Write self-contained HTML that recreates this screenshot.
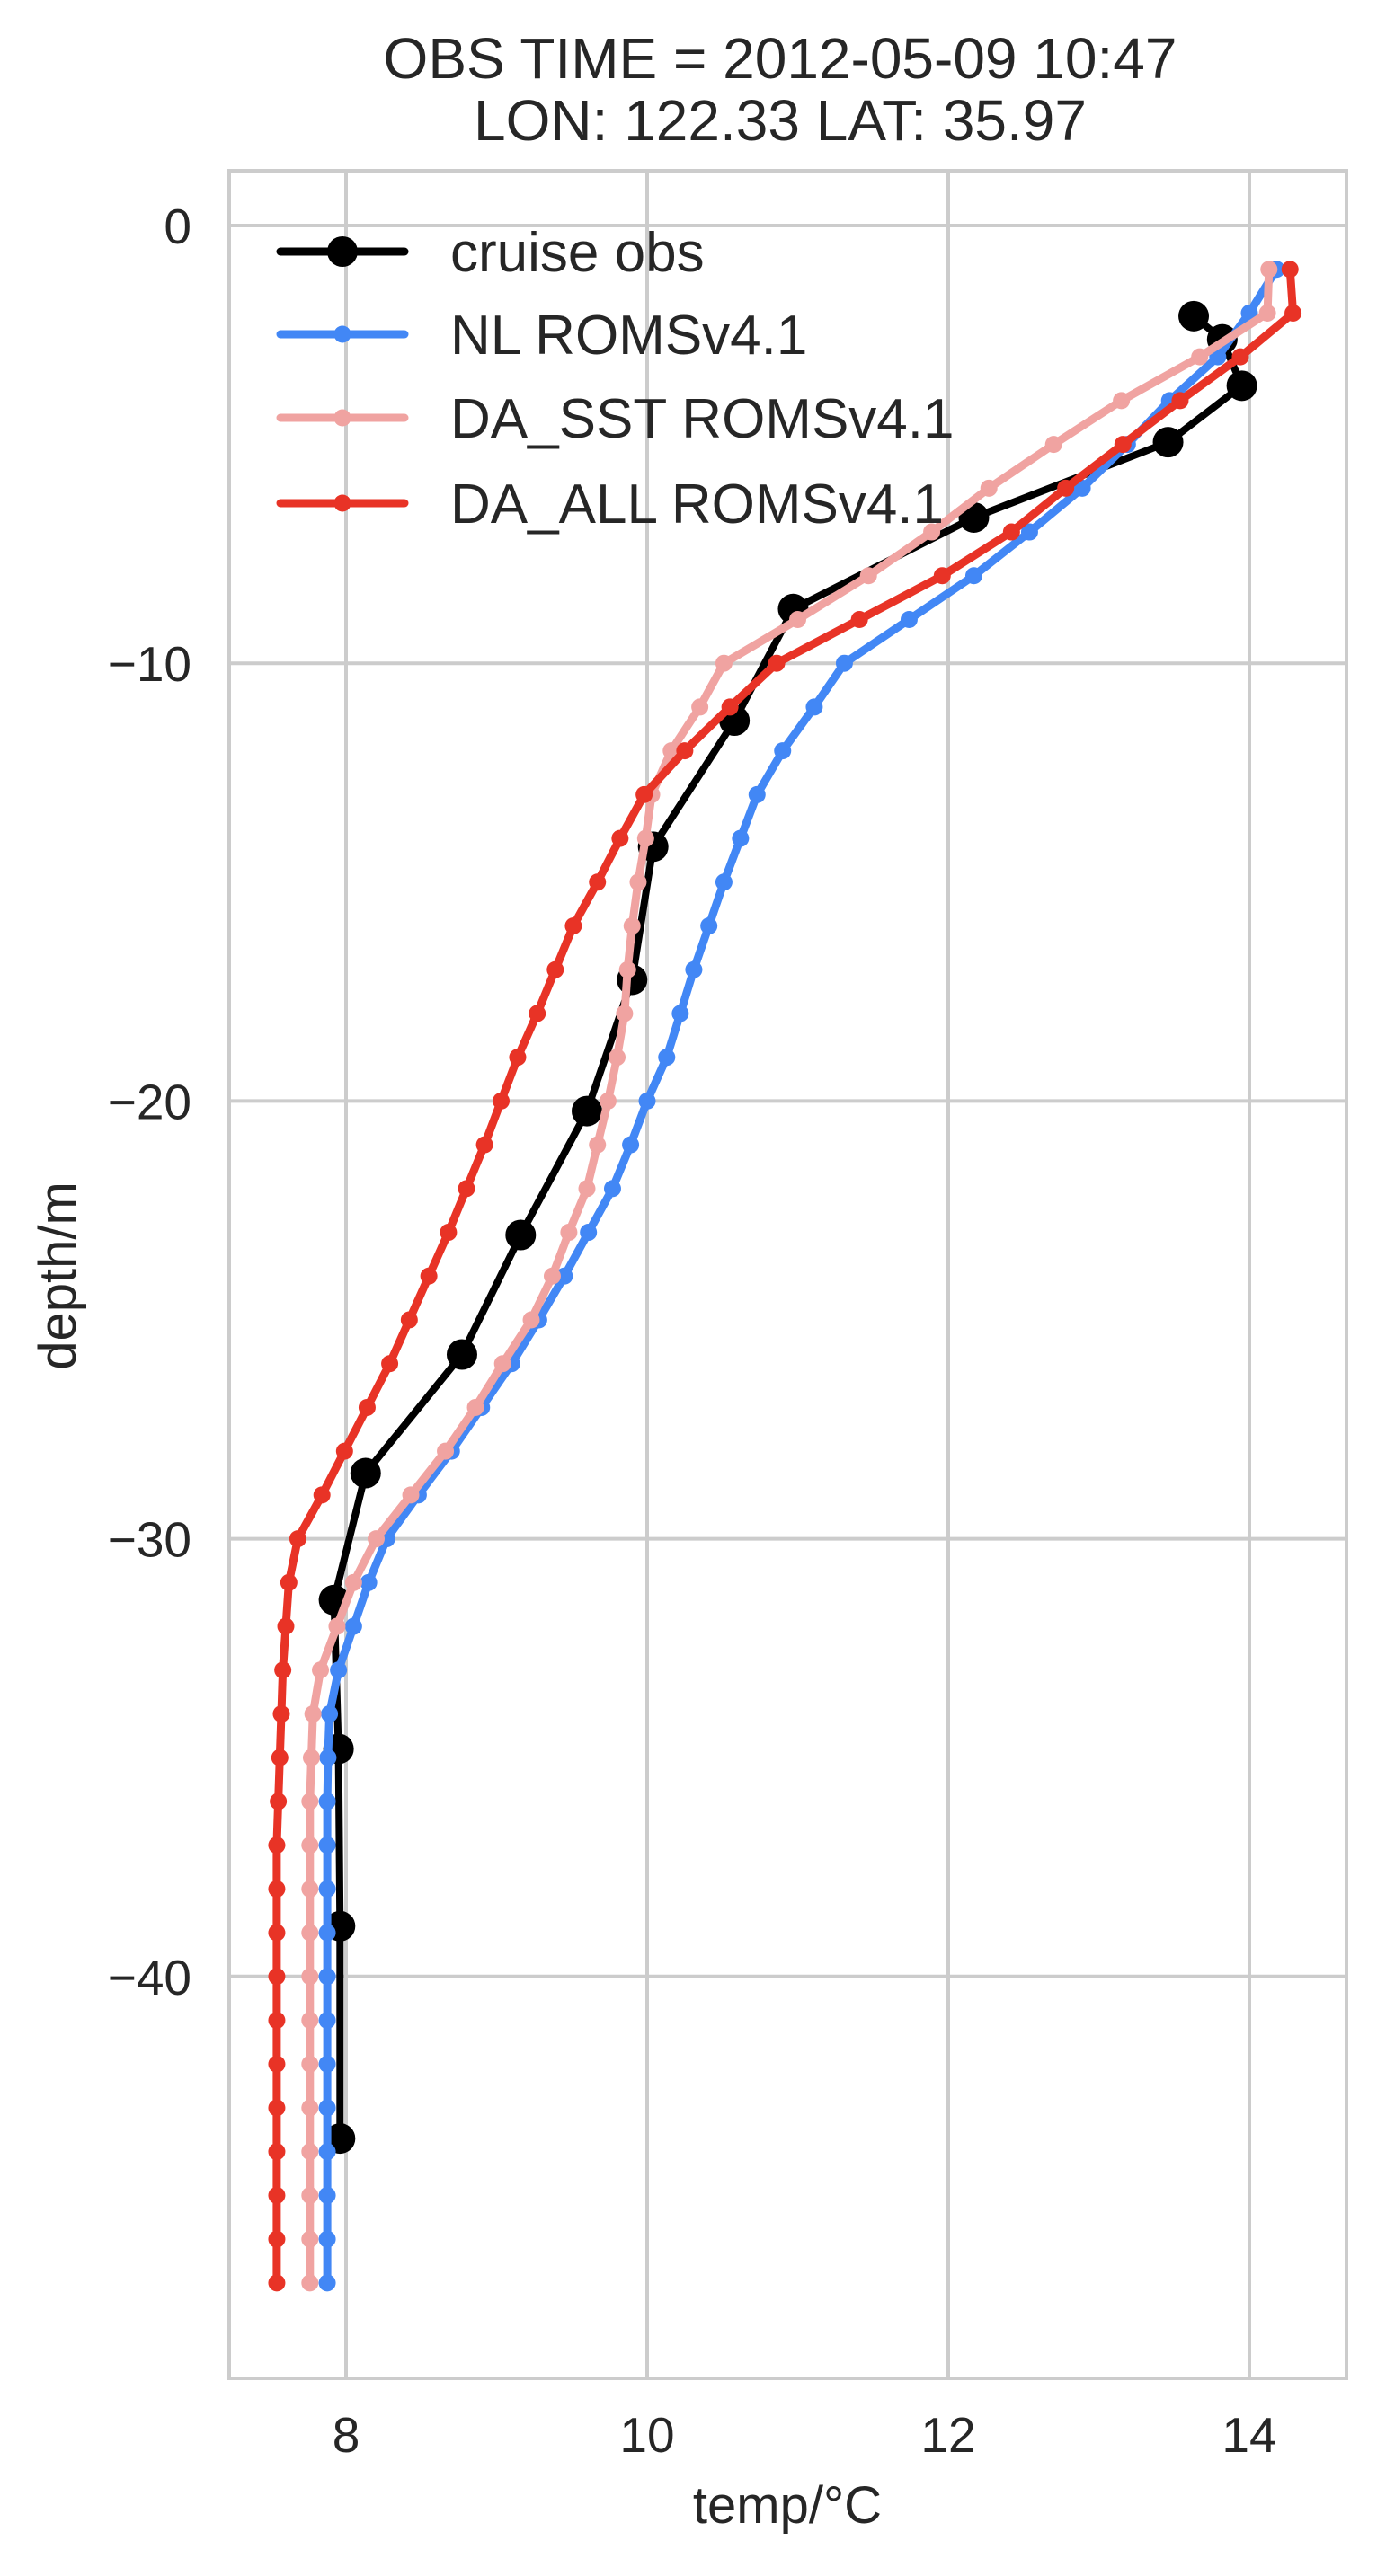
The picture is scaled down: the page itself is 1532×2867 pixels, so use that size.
<!DOCTYPE html>
<html><head><meta charset="utf-8">
<style>
html,body{margin:0;padding:0;background:#fff;}
svg{display:block;font-family:"Liberation Sans",Arial,sans-serif;}
</style></head>
<body>
<svg id="chart" width="1532" height="2867" viewBox="0 0 1532 2867" xmlns="http://www.w3.org/2000/svg">
<rect width="1532" height="2867" fill="#fff"/>
<text x="868" y="87" font-size="64" text-anchor="middle" fill="#262626">OBS TIME = 2012-05-09 10:47</text>
<text x="868" y="156" font-size="64" text-anchor="middle" fill="#262626">LON: 122.33 LAT: 35.97</text>
<g id="grid"></g>
<g id="series"></g>
<rect x="255" y="190" width="1243" height="2457" fill="none" stroke="#cccccc" stroke-width="4"/>
<g id="ticks"></g>
<text x="876" y="2808" font-size="58" text-anchor="middle" fill="#262626">temp/°C</text>
<text x="0" y="0" font-size="58" text-anchor="middle" fill="#262626" transform="translate(84,1420) rotate(-90)">depth/m</text>
<g id="legend"></g>
</svg>
<script>
const xTicks = [8, 10, 12, 14];
const yTicks = [0, -10, -20, -30, -40];
const yTickLabels = ["0", "\u221210", "\u221220", "\u221230", "\u221240"];
const obsDepth = [-2.07,-2.6,-3.66,-4.95,-6.67,-8.76,-11.31,-14.19,-17.23,-20.23,-23.06,-25.79,-28.5,-31.4,-34.8,-38.85,-43.7];
const obsTemp = [13.63,13.82,13.95,13.46,12.17,10.97,10.58,10.04,9.90,9.60,9.16,8.77,8.13,7.92,7.95,7.96,7.96];
const modelDepth = [-1,-2,-3,-4,-5,-6,-7,-8,-9,-10,-11,-12,-13,-14,-15,-16,-17,-18,-19,-20,-21,-22,-23,-24,-25,-26,-27,-28,-29,-30,-31,-32,-33,-34,-35,-36,-37,-38,-39,-40,-41,-42,-43,-44,-45,-46,-47];
const nlTemp = [14.18,14.0,13.79,13.47,13.19,12.89,12.54,12.17,11.74,11.31,11.11,10.90,10.73,10.62,10.51,10.41,10.31,10.22,10.13,10.0,9.89,9.77,9.61,9.45,9.28,9.10,8.90,8.70,8.48,8.27,8.15,8.05,7.95,7.89,7.88,7.875,7.875,7.875,7.875,7.875,7.875,7.875,7.875,7.875,7.875,7.875,7.875];
const daSstTemp = [14.13,14.12,13.67,13.15,12.70,12.27,11.89,11.47,11.0,10.51,10.35,10.16,10.03,9.99,9.94,9.90,9.87,9.85,9.80,9.74,9.67,9.60,9.48,9.37,9.23,9.04,8.86,8.66,8.43,8.20,8.05,7.94,7.83,7.78,7.77,7.76,7.76,7.76,7.76,7.76,7.76,7.76,7.76,7.76,7.76,7.76,7.76];
const daAllTemp = [14.27,14.29,13.94,13.54,13.16,12.78,12.42,11.96,11.41,10.86,10.55,10.25,9.98,9.82,9.67,9.51,9.39,9.27,9.14,9.03,8.92,8.80,8.68,8.55,8.42,8.29,8.14,7.99,7.84,7.68,7.62,7.60,7.58,7.57,7.56,7.55,7.54,7.54,7.54,7.54,7.54,7.54,7.54,7.54,7.54,7.54,7.54];
const legendLabels = ["cruise obs", "NL ROMSv4.1", "DA_SST ROMSv4.1", "DA_ALL ROMSv4.1"];

const NS = "http://www.w3.org/2000/svg";
const X0 = 255, X1 = 1498, Y0 = 190, Y1 = 2647;
function xs(t){ return 385 + (t - 8) * 167.5; }
function ys(d){ return 251 - d * 48.72; }
function mk(tag, attrs, parent){
  const e = document.createElementNS(NS, tag);
  for (const k in attrs) e.setAttribute(k, attrs[k]);
  parent.appendChild(e);
  return e;
}
const grid = document.getElementById('grid');
const ticks = document.getElementById('ticks');
xTicks.forEach(function(t){
  const l = mk('line', {x1: xs(t), x2: xs(t), y1: Y0, y2: Y1, stroke: '#cccccc', 'stroke-width': 4}, grid);
  
  
  const tx = mk('text', {x: xs(t), y: 2729, 'font-size': 55, 'text-anchor': 'middle', fill: '#262626'}, ticks);
  tx.textContent = String(t);
  
  
});
yTicks.forEach(function(d, i){
  const l = mk('line', {x1: X0, x2: X1, y1: ys(d), y2: ys(d), stroke: '#cccccc', 'stroke-width': 4}, grid);
  
  
  const tx = mk('text', {x: 213, y: ys(d) + 20, 'font-size': 55, 'text-anchor': 'end', fill: '#262626'}, ticks);
  tx.textContent = yTickLabels[i];
  
  
});
const series = document.getElementById('series');
function drawSeries(temps, depths, color, lw, r, name){
  const g = mk('g', {}, series);
  
  
  const pts = temps.map(function(t, i){ return xs(t).toFixed(1) + ',' + ys(depths[i]).toFixed(1); }).join(' ');
  const pl = mk('polyline', {points: pts, fill: 'none', stroke: color, 'stroke-width': lw, 'stroke-linejoin': 'round', 'stroke-linecap': 'round'}, g);
  
  
  temps.forEach(function(t, i){
    const c = mk('circle', {cx: xs(t), cy: ys(depths[i]), r: r, fill: color}, g);
    
    
  });
}
drawSeries(obsTemp, obsDepth, '#000000', 8, 17, 'cruise-obs');
drawSeries(nlTemp, modelDepth, '#4287f5', 9, 9.5, 'nl-roms');
drawSeries(daSstTemp, modelDepth, '#f0a3a1', 9, 9.5, 'da-sst-roms');
drawSeries(daAllTemp, modelDepth, '#e83326', 9, 9.5, 'da-all-roms');

const legend = document.getElementById('legend');
const legColors = ['#000000', '#4287f5', '#f0a3a1', '#e83326'];
const legR = [17, 9.5, 9.5, 9.5];
const legY = [280, 372, 465, 560];
legendLabels.forEach(function(lbl, i){
  const g = mk('g', {}, legend);
  
  
  mk('line', {x1: 312, x2: 450, y1: legY[i], y2: legY[i], stroke: legColors[i], 'stroke-width': 9, 'stroke-linecap': 'round'}, g);
  mk('circle', {cx: 381, cy: legY[i], r: legR[i], fill: legColors[i]}, g);
  const tx = mk('text', {x: 501, y: legY[i] + 22, 'font-size': 62, fill: '#262626'}, g);
  tx.textContent = lbl;
  
  
});
</script>
</body></html>
